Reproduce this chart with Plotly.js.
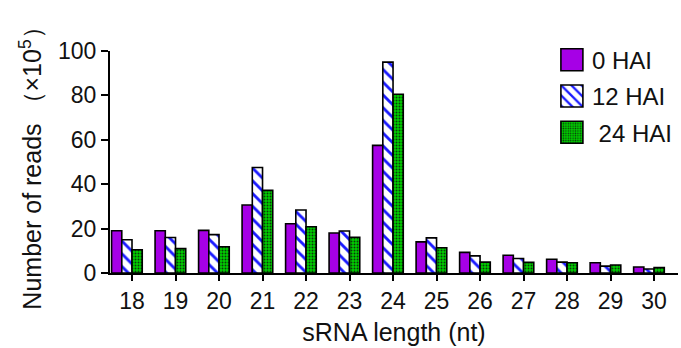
<!DOCTYPE html>
<html>
<head>
<meta charset="utf-8">
<script src="https://cdn.plot.ly/plotly-3.0.1.min.js"></script>
<style>html,body{margin:0;padding:0;background:#fff;}#chart{width:681px;height:348px;}</style>
</head>
<body>
<div id="chart"></div>
<script>
const lengths = [18, 19, 20, 21, 22, 23, 24, 25, 26, 27, 28, 29, 30];
const tickLabels = ["18","19","20","21","22","23","24","25","26","27","28","29","30"];
const seriesNames = ["0 HAI", "12 HAI", " 24 HAI"];
const hai0  = [19.0, 19.0, 19.2, 30.6, 22.2, 18.0, 57.5, 14.0, 9.3, 8.0, 6.2, 4.6, 2.7];
const hai12 = [15.0, 16.0, 17.3, 47.5, 28.4, 18.9, 95.0, 15.8, 7.7, 6.5, 4.9, 3.1, 1.8];
const hai24 = [10.5, 11.0, 11.8, 37.2, 20.8, 16.1, 80.5, 11.4, 4.9, 4.8, 4.6, 3.6, 2.4];

const barW = 0.235;
const common = {type: 'bar', x: lengths, width: barW, hoverinfo: 'skip'};
const traces = [
  Object.assign({}, common, {name: seriesNames[0], y: hai0, offset: -2*barW, legendgroup: 'a',
    marker: {color: '#A600E6', line: {color: '#000', width: 1.6}}}),
  Object.assign({}, common, {name: seriesNames[1], y: hai12, offset: -barW, legendgroup: 'b',
    marker: {color: '#ffffff', line: {color: '#000', width: 1.6},
      pattern: {shape: '\\', fgcolor: '#1a1aff', bgcolor: '#ffffff', size: 9, solidity: 0.32, fillmode: 'replace'}}}),
  Object.assign({}, common, {name: seriesNames[2], y: hai24, offset: 0, legendgroup: 'c',
    marker: {color: '#00C800', line: {color: '#000', width: 1.6},
      pattern: {shape: '.', fgcolor: '#0a3a0a', bgcolor: '#00D000', size: 3, solidity: 0.35, fillmode: 'replace'}}})
];

const fontFam = 'Liberation Sans, Arial, sans-serif';
const layout = {
  width: 681, height: 348,
  margin: {l: 110, r: 3, t: 51, b: 75},
  paper_bgcolor: '#fff', plot_bgcolor: '#fff',
  showlegend: true,
  legend: {x: 0.778, xanchor: 'left', y: 1.06, yanchor: 'top', bgcolor: 'rgba(0,0,0,0)',
    font: {family: fontFam, size: 24, color: '#111'}, tracegroupgap: 2, itemclick: false},
  xaxis: {
    range: [17.494, 30.55], tickmode: 'array', tickvals: lengths, ticktext: tickLabels,
    showgrid: false, zeroline: false, showline: true, linecolor: '#000', linewidth: 2,
    ticks: 'outside', ticklen: 6, tickwidth: 2, tickcolor: '#000',
    tickfont: {family: fontFam, size: 23, color: '#111'},
    title: {text: 'sRNA length (nt)', font: {family: fontFam, size: 25, color: '#111'}, standoff: 11}
  },
  yaxis: {
    range: [0, 100], tickvals: [0, 20, 40, 60, 80, 100],
    showgrid: false, zeroline: false, showline: true, linecolor: '#000', linewidth: 2,
    ticks: 'outside', ticklen: 7, tickwidth: 2, tickcolor: '#000',
    tickfont: {family: fontFam, size: 23, color: '#111'},
    title: {text: 'Number of reads （×10<sup>5</sup>）', font: {family: fontFam, size: 25, color: '#111'}, standoff: 9}
  }
};

Plotly.newPlot('chart', traces, layout, {staticPlot: true, displayModeBar: false}).then(function () {
  document.querySelectorAll('#chart .legend .legendpoints path').forEach(function (p) {
    p.setAttribute('d', 'M11,11H-11V-11H11Z');
    p.style.strokeWidth = '1.6px';
  });
});
</script>
</body>
</html>
